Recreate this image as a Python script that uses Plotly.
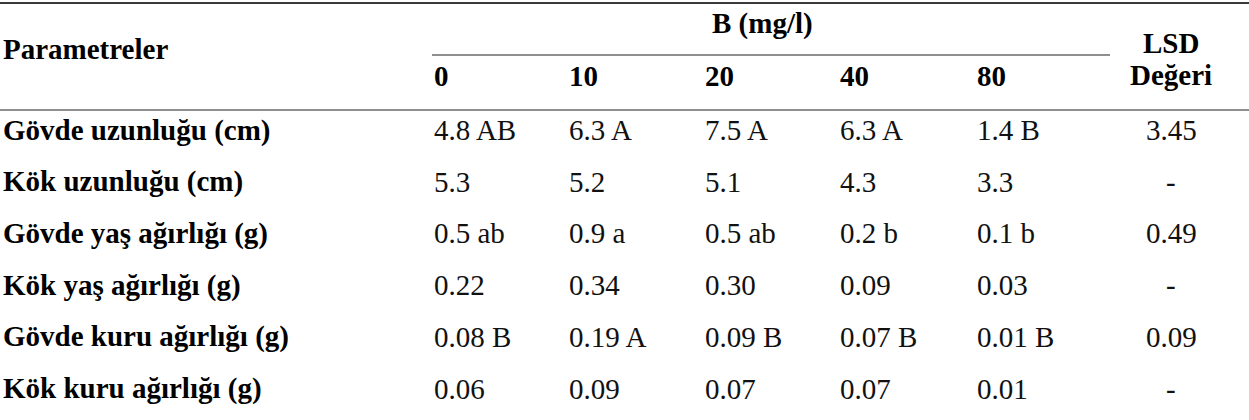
import plotly.graph_objects as go

# ---------------- data ----------------
header_param = "Parametreler"
header_group = "B (mg/l)"
header_lsd = ["LSD", "Değeri"]
doses = ["0", "10", "20", "40", "80"]
params = [
    "Gövde uzunluğu (cm)",
    "Kök uzunluğu (cm)",
    "Gövde yaş ağırlığı (g)",
    "Kök yaş ağırlığı (g)",
    "Gövde kuru ağırlığı (g)",
    "Kök kuru ağırlığı (g)",
]
b0 = ["4.8 AB", "5.3", "0.5 ab", "0.22", "0.08 B", "0.06"]
b10 = ["6.3 A", "5.2", "0.9 a", "0.34", "0.19 A", "0.09"]
b20 = ["7.5 A", "5.1", "0.5 ab", "0.30", "0.09 B", "0.07"]
b40 = ["6.3 A", "4.3", "0.2 b", "0.09", "0.07 B", "0.07"]
b80 = ["1.4 B", "3.3", "0.1 b", "0.03", "0.01 B", "0.01"]
lsd = ["3.45", "-", "0.49", "-", "0.09", "-"]

# ---------------- layout helpers ----------------
W, H = 1249, 420
FONT = "Liberation Serif, Times New Roman, serif"
FS = 29
label_x = 1
col_x = [432, 567, 703, 838, 975]
lsd_x = 1171
row_y0, row_dy = 130, 51.7
header_y = 76

ann = []

def add(text, x, y, anchor="left", bold=False, color="#111"):
    ann.append(dict(
        text=f"<b>{text}</b>" if bold else text,
        x=x, y=y, xref="x", yref="y",
        xanchor=anchor, yanchor="middle",
        showarrow=False, align="center",
        font=dict(family=FONT, size=FS, color=color),
    ))

add(header_param, label_x, 49, bold=True, color="#000")
add(header_group, 762, 23, anchor="center", bold=True, color="#000")
add(header_lsd[0], lsd_x, 43, anchor="center", bold=True, color="#000")
add(header_lsd[1], lsd_x, 75, anchor="center", bold=True, color="#000")
for d, x in zip(doses, col_x):
    add(d, x, header_y, bold=True, color="#000")

cols = [b0, b10, b20, b40, b80]
for i, p in enumerate(params):
    y = row_y0 + i * row_dy
    add(p, label_x, y, bold=True, color="#000")
    for c, x in zip(cols, col_x):
        add(c[i], x, y)
    add(lsd[i], lsd_x, y, anchor="center")

shapes = [
    dict(type="line", xref="x", yref="y", x0=0, x1=W, y0=3, y1=3,
         line=dict(color="#3a3a3a", width=2)),
    dict(type="line", xref="x", yref="y", x0=432, x1=1110, y0=55, y1=55,
         line=dict(color="#6a6a6a", width=1.5)),
    dict(type="line", xref="x", yref="y", x0=0, x1=W, y0=110, y1=110,
         line=dict(color="#6a6a6a", width=1.5)),
]

fig = go.Figure(go.Scatter(x=[0], y=[0], mode="markers", marker=dict(opacity=0),
                           hoverinfo="skip", showlegend=False))
fig.update_layout(
    width=W, height=H,
    margin=dict(l=0, r=0, t=0, b=0),
    paper_bgcolor="white", plot_bgcolor="white",
    xaxis=dict(range=[0, W], visible=False, fixedrange=True),
    yaxis=dict(range=[H, 0], visible=False, fixedrange=True),
    annotations=ann, shapes=shapes,
    showlegend=False,
)
fig.write_html(
    "out.html",
    config={"displayModeBar": False},
    post_script="document.body.style.margin='0';document.body.style.overflow='hidden';",
)
